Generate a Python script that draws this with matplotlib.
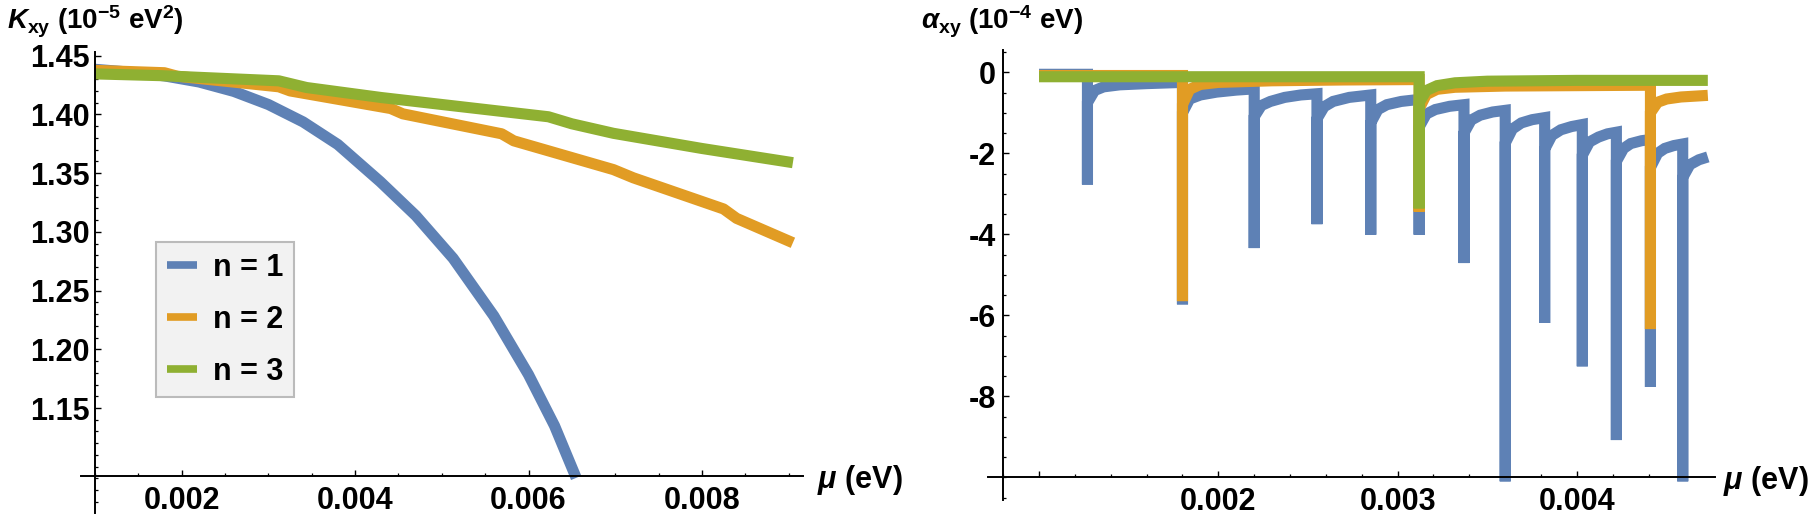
import matplotlib
matplotlib.use("Agg")
import matplotlib.pyplot as plt
from matplotlib.ticker import FixedLocator, MultipleLocator, FormatStrFormatter, FuncFormatter

# ───── Style ───────────────────────────────────────────────────────────────
plt.rcParams["font.family"] = ["Liberation Sans", "DejaVu Sans"]
plt.rcParams["font.weight"] = "bold"
plt.rcParams["mathtext.fontset"] = "custom"
plt.rcParams["mathtext.rm"] = "Liberation Sans:bold"
plt.rcParams["mathtext.it"] = "Liberation Sans:italic:bold"
plt.rcParams["mathtext.bf"] = "Liberation Sans:bold"
plt.rcParams["mathtext.sf"] = "Liberation Sans:bold"

BLUE = "#5E81B5"
ORANGE = "#E19C24"
GREEN = "#8FB032"

# ───── Data: K_xy (10^-5 eV^2) vs mu (eV) ─────────────────────────────────
k_mu_n1 = [0.00100, 0.00140, 0.00180, 0.00220, 0.00260, 0.00300, 0.00340,
           0.00380, 0.00429, 0.00470, 0.00513, 0.00560, 0.00600, 0.00630, 0.00655]
k_n1 = [1.4384, 1.4360, 1.4328, 1.4276, 1.4196, 1.4084, 1.3936,
        1.3744, 1.3427, 1.3138, 1.2775, 1.2284, 1.1784, 1.1349, 1.0905]

k_mu_n2 = [0.00100, 0.00180, 0.00195, 0.00312, 0.00325, 0.00441, 0.00455,
           0.00569, 0.00583, 0.00698, 0.00721, 0.00825, 0.00840, 0.00905]
k_n2 = [1.4375, 1.4355, 1.4325, 1.4235, 1.4200, 1.4050, 1.4005,
        1.3835, 1.3775, 1.3530, 1.3460, 1.3195, 1.3115, 1.2907]

k_mu_n3 = [0.00100, 0.00176, 0.00312, 0.00344, 0.00430, 0.00623, 0.00650,
           0.00698, 0.00800, 0.00905]
k_n3 = [1.4345, 1.4330, 1.4286, 1.4229, 1.4144, 1.3980, 1.3920,
        1.3839, 1.3710, 1.3589]

# ───── Data: alpha_xy (10^-4 eV) vs mu (eV) ───────────────────────────────
a_mu_n1 = [0.00100, 0.00127, 0.00127, 0.00127, 0.00131, 0.00136, 0.00145, 0.00160, 0.00180,
           0.00180, 0.00180, 0.00184, 0.00190, 0.00199, 0.00210, 0.00220,
           0.00220, 0.00220, 0.00224, 0.00229, 0.00237, 0.00246, 0.00255,
           0.00255, 0.00255, 0.00259, 0.00264, 0.00273, 0.00285,
           0.00285, 0.00285, 0.00289, 0.00294, 0.00302, 0.00312,
           0.00312, 0.00312, 0.00316, 0.00321, 0.00329, 0.00337,
           0.00337, 0.00337, 0.00341, 0.00346, 0.00353, 0.00360,
           0.00360, 0.00360, 0.00364, 0.00369, 0.00375, 0.00382,
           0.00382, 0.00382, 0.00386, 0.00391, 0.00397, 0.00403,
           0.00403, 0.00403, 0.00407, 0.00412, 0.00417, 0.00422,
           0.00422, 0.00422, 0.00426, 0.00430, 0.00436, 0.00441,
           0.00441, 0.00441, 0.00445, 0.00449, 0.00454, 0.00459,
           0.00459, 0.00459, 0.00463, 0.00468, 0.00473]
a_n1 = [-0.05, -0.05, -2.77, -0.75, -0.45, -0.36, -0.31, -0.28, -0.25,
        -5.73, -1.00, -0.66, -0.56, -0.49, -0.44, -0.41,
        -4.34, -1.10, -0.82, -0.72, -0.62, -0.56, -0.53,
        -3.75, -1.15, -0.85, -0.72, -0.62, -0.56,
        -4.01, -1.25, -0.92, -0.80, -0.72, -0.67,
        -4.01, -1.35, -1.03, -0.92, -0.84, -0.80,
        -4.71, -1.50, -1.18, -1.06, -0.98, -0.94,
        -10.10, -1.75, -1.40, -1.25, -1.17, -1.12,
        -6.19, -1.90, -1.56, -1.42, -1.34, -1.29,
        -7.26, -2.05, -1.72, -1.60, -1.52, -1.48,
        -9.08, -2.20, -1.88, -1.76, -1.69, -1.66,
        -7.77, -2.35, -2.00, -1.88, -1.81, -1.77,
        -10.10, -2.60, -2.28, -2.16, -2.09]

a_mu_n2 = [0.00100, 0.00180, 0.00180, 0.00180, 0.00184, 0.00190, 0.00200, 0.00230,
           0.00270, 0.00312, 0.00312, 0.00312, 0.00316, 0.00322, 0.00332, 0.00360,
           0.00400, 0.00441, 0.00441, 0.00441, 0.00445, 0.00450, 0.00458, 0.00473]
a_n2 = [-0.08, -0.08, -5.65, -0.80, -0.42, -0.30, -0.25, -0.21,
        -0.19, -0.18, -3.44, -0.90, -0.55, -0.42, -0.37, -0.34,
        -0.33, -0.32, -6.34, -1.00, -0.74, -0.66, -0.61, -0.57]

a_mu_n3 = [0.00100, 0.00312, 0.00312, 0.00312, 0.00316, 0.00322, 0.00332,
           0.00350, 0.00400, 0.00473]
a_n3 = [-0.11, -0.11, -3.36, -0.75, -0.45, -0.33, -0.26,
        -0.22, -0.20, -0.20]

labels = ["n = 1", "n = 2", "n = 3"]
colors = [BLUE, ORANGE, GREEN]

# ───── Figure ──────────────────────────────────────────────────────────────
fig = plt.figure(figsize=(18.15, 5.19), dpi=100)
ax1 = fig.add_axes([0.04446, 0.01156, 0.39813, 0.88882])
ax2 = fig.add_axes([0.54452, 0.03661, 0.40038, 0.86705])

LW = 8
TICK_FS = 22


def style_axes(ax, x0, y0):
    for side in ("top", "right"):
        ax.spines[side].set_visible(False)
    ax.spines["left"].set_position(("data", x0))
    ax.spines["bottom"].set_position(("data", y0))
    for side in ("left", "bottom"):
        ax.spines[side].set_linewidth(1.4)
    ax.tick_params(which="major", direction="in", length=4.1, width=1.0,
                   labelsize=TICK_FS, pad=4)
    ax.tick_params(which="minor", direction="in", length=2.3, width=0.9)
    ax.tick_params(axis="x", which="major", pad=7)
    ax.set_facecolor("none")


# left panel
for mu, k, c, lab in zip([k_mu_n1, k_mu_n2, k_mu_n3], [k_n1, k_n2, k_n3], colors, labels):
    ax1.plot(mu, k, color=c, lw=LW, solid_capstyle="butt", solid_joinstyle="round",
             label=lab, clip_on=False)
ax1.set_xlim(0.000834, 0.00917)
ax1.set_ylim(1.0606, 1.4534)
style_axes(ax1, 0.001, 1.092)
ax1.xaxis.set_major_locator(FixedLocator([0.002, 0.004, 0.006, 0.008]))
ax1.xaxis.set_minor_locator(MultipleLocator(0.0005))
ax1.yaxis.set_major_locator(FixedLocator([1.15, 1.20, 1.25, 1.30, 1.35, 1.40, 1.45]))
ax1.yaxis.set_minor_locator(MultipleLocator(0.01))
ax1.xaxis.set_major_formatter(FormatStrFormatter("%.3f"))
ax1.yaxis.set_major_formatter(FormatStrFormatter("%.2f"))

leg = ax1.legend(loc="upper left", bbox_to_anchor=(0.1042, 0.5875), borderaxespad=0,
                 fontsize=22, handlelength=1.0, handletextpad=0.52, borderpad=0.35,
                 labelspacing=0.72, fancybox=False, framealpha=1)
leg.get_frame().set_facecolor("#F2F2F2")
leg.get_frame().set_edgecolor("#BBBBBB")
leg.get_frame().set_linewidth(1.5)
for line in leg.get_lines():
    line.set_linewidth(5.5)
    line.set_solid_capstyle("butt")

# right panel
for mu, a, c in zip([a_mu_n1, a_mu_n2, a_mu_n3], [a_n1, a_n2, a_n3], colors):
    ax2.plot(mu, a, color=c, lw=LW, solid_capstyle="butt", solid_joinstyle="miter",
             clip_on=False)
ax2.set_xlim(0.000717, 0.00477)
ax2.set_ylim(-10.56, 0.55)
style_axes(ax2, 0.0008, -10.0)
ax2.xaxis.set_major_locator(FixedLocator([0.001, 0.002, 0.003, 0.004]))
ax2.xaxis.set_minor_locator(MultipleLocator(0.0002))
ax2.yaxis.set_major_locator(FixedLocator([-8, -6, -4, -2, 0]))
ax2.yaxis.set_minor_locator(MultipleLocator(0.5))
ax2.xaxis.set_major_formatter(
    FuncFormatter(lambda v, p: "" if abs(v - 0.001) < 1e-9 else f"{v:.3f}"))
ax2.yaxis.set_major_formatter(FuncFormatter(lambda v, p: f"{v:.0f}"))
ax2.tick_params(axis="y", which="major", pad=5)

# ───── Axis labels ─────────────────────────────────────────────────────────
fig.text(95 / 1815, 1 - 22 / 519, r"$K_{\mathrm{xy}}$ (10$^{-5}$ eV$^{2}$)",
         ha="center", va="center", fontsize=20, fontweight="bold")
fig.text(1002 / 1815, 1 - 22 / 519, r"$\alpha_{\mathrm{xy}}$ (10$^{-4}$ eV)",
         ha="center", va="center", fontsize=20, fontweight="bold")
ax1.annotate(r"$\mu$ (eV)", xy=(0.00917, 1.092), xytext=(10, -3), textcoords="offset points",
             ha="left", va="center", fontsize=22, fontweight="bold")
ax2.annotate(r"$\mu$ (eV)", xy=(0.00477, -10.0), xytext=(6, -3), textcoords="offset points",
             ha="left", va="center", fontsize=22, fontweight="bold")

fig.savefig("out.png", dpi=100, facecolor="white")
